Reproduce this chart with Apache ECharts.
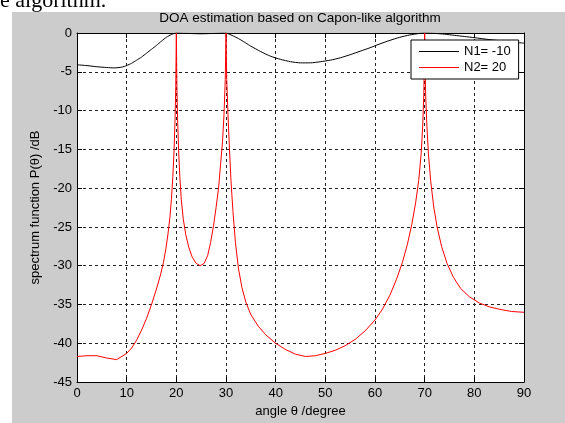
<!DOCTYPE html>
<html lang="en">
<head>
    <meta charset="UTF-8">
    <title>DOA estimation based on Capon-like algorithm</title>
    <style>
        *{
            margin: 0;
            padding: 0;
        }
        body,html{
            width: 100%;
            height: 100%;
            background: #fff;
        }
        #main{
            width: 565px;
            height: 423px;
        }
    </style>
</head>
<body>

<div id="main"></div>

<script src="https://cdn.jsdelivr.net/npm/echarts@6/dist/echarts.min.js"></script>
<script type="text/javascript">
    // tick labels
    var xTicks = [0, 10, 20, 30, 40, 50, 60, 70, 80, 90];
    var yTicks = [0, -5, -10, -15, -20, -25, -30, -35, -40, -45];

    // N1 = -10 (black)
    var n1Angle = [0, 2, 4, 6, 7.5, 9, 10, 11, 12, 13, 14, 15, 16, 17, 18, 19, 20, 22, 25, 28, 30,
        31, 32, 33, 34, 35, 37, 39, 41, 43, 45, 47, 49, 51, 53, 55, 57, 59, 61, 63, 65, 67, 69, 70,
        72, 74, 76, 78, 80, 83, 86, 88, 90];
    var n1Value = [-4.1, -4.2, -4.35, -4.45, -4.5, -4.4, -4.2, -3.9, -3.5, -3.1, -2.6, -2.1, -1.6, -1.05, -0.55, -0.2, 0, -0.05, -0.1, -0.05, 0,
        -0.25, -0.55, -0.9, -1.3, -1.7, -2.4, -3.0, -3.4, -3.7, -3.85, -3.85, -3.7, -3.5, -3.2, -2.8, -2.35, -1.9, -1.4, -0.95, -0.55, -0.25, -0.05, 0,
        -0.05, -0.15, -0.3, -0.45, -0.6, -0.85, -1.05, -1.2, -1.3];

    // N2 = 20 (red)
    var n2Angle = [0, 2, 4, 6, 8, 10, 11, 12, 13, 14, 15, 16, 16.8, 17.4, 17.9, 18.3, 18.7, 19.0, 19.3, 19.55, 19.75, 19.88, 20,
        20.12, 20.25, 20.45, 20.7, 21.0, 21.4, 21.9, 22.5, 23.2, 24.0, 24.8, 25.6, 26.3, 26.9, 27.5, 28.0, 28.5, 28.9, 29.3, 29.6, 29.85, 30,
        30.15, 30.4, 30.7, 31.0, 31.4, 31.9, 32.5, 33.2, 34.0, 35.0, 36.5, 38, 40, 42, 44, 46, 48, 50, 52, 54, 56, 58, 60,
        61.5, 63, 64.3, 65.5, 66.5, 67.4, 68.2, 68.8, 69.3, 69.6, 69.82, 69.93, 70,
        70.08, 70.2, 70.45, 70.75, 71.2, 71.8, 72.5, 73.4, 74.5, 75.8, 77.2, 79, 81, 83, 85, 87.5, 90];
    var n2Value = [-41.7, -41.6, -41.6, -41.9, -42.1, -41.3, -40.6, -39.6, -38.3, -36.8, -35.0, -33.0, -31.2, -29.6, -27.8, -26.0, -23.8, -21.5, -18.5, -15, -11, -7, 0,
        -7, -11, -15, -18.5, -21.5, -24, -26, -27.6, -28.9, -29.7, -30, -29.7, -28.7, -27, -24.8, -22.5, -20, -17, -14, -10.5, -6, 0,
        -6, -10.5, -15, -19, -23, -27, -30.3, -32.8, -34.7, -36.3, -37.8, -38.9, -40.0, -40.8, -41.4, -41.7, -41.6, -41.3, -40.9, -40.3, -39.5, -38.4, -37.0,
        -35.6, -33.8, -31.8, -29.6, -27.3, -24.7, -21.8, -19, -15.5, -12, -8, -4, 0,
        -4, -8, -12, -15.5, -19, -22.3, -25, -27.5, -29.7, -31.5, -32.9, -34.0, -34.8, -35.3, -35.6, -35.9, -36];

    function pairs(xs, ys) {
        var out = [];
        for (var i = 0; i < xs.length; i++) {
            out.push([xs[i], ys[i]]);
        }
        return out;
    }

    var myChart = echarts.init(document.getElementById('main'));

    var tickFont = {color: '#000', fontSize: 13, fontFamily: 'Liberation Sans, Arial, sans-serif'};

    var option = {
        animation: false,
        backgroundColor: '#fff',
        textStyle: {fontFamily: 'Liberation Sans, Arial, sans-serif', color: '#000'},
        graphic: [
            {
                type: 'rect',
                z: -100,
                shape: {x: 12, y: 12, width: 553, height: 411},
                style: {fill: '#cccccc'}
            },
            {
                type: 'text',
                z: -50,
                style: {
                    x: 0, y: 12.5,
                    text: 'e algorithm.',
                    fill: '#000',
                    font: '22px "Liberation Serif", "Times New Roman", serif',
                    verticalAlign: 'bottom'
                }
            }
        ],
        title: {
            text: 'DOA estimation based on Capon-like algorithm',
            left: 300,
            top: 11,
            textAlign: 'center',
            padding: 0,
            textStyle: {fontSize: 13.5, fontWeight: 'normal', color: '#000', fontFamily: 'Liberation Sans, Arial, sans-serif'}
        },
        legend: {
            orient: 'vertical',
            left: 411,
            top: 40,
            padding: [5, 8],
            itemGap: 3,
            itemWidth: 40,
            itemHeight: 1,
            icon: 'rect',
            backgroundColor: '#fff',
            borderColor: '#000',
            borderWidth: 1,
            borderRadius: 0,
            textStyle: {fontSize: 13, color: '#000'},
            data: ['N1= -10', 'N2= 20']
        },
        grid: {
            left: 77,
            top: 33,
            right: 41,
            bottom: 40,
            show: true,
            backgroundColor: '#fff',
            borderWidth: 0
        },
        xAxis: [
            {
                type: 'value',
                min: 0,
                max: 90,
                interval: 10,
                name: 'angle θ /degree',
                nameLocation: 'middle',
                nameGap: 16,
                nameTextStyle: {fontSize: 13, color: '#000'},
                axisLine: {onZero: false, lineStyle: {color: '#000', width: 1}},
                axisTick: {inside: true, length: 5, lineStyle: {color: '#000'}},
                axisLabel: Object.assign({margin: 5, formatter: function (v) {
                    return xTicks.indexOf(v) >= 0 ? String(v) : '';
                }}, tickFont),
                splitLine: {show: true, lineStyle: {color: '#222', type: [3, 3], width: 1}}
            },
            {
                type: 'value',
                position: 'top',
                min: 0,
                max: 90,
                interval: 10,
                axisLine: {onZero: false, lineStyle: {color: '#000', width: 1}},
                axisTick: {inside: true, length: 5, lineStyle: {color: '#000'}},
                axisLabel: {show: false},
                splitLine: {show: false}
            }
        ],
        yAxis: [
            {
                type: 'value',
                min: -45,
                max: 0,
                interval: 5,
                name: 'spectrum function P(θ) /dB',
                nameLocation: 'middle',
                nameGap: 28,
                nameTextStyle: {fontSize: 13, color: '#000'},
                axisLine: {onZero: false, lineStyle: {color: '#000', width: 1}},
                axisTick: {inside: true, length: 5, lineStyle: {color: '#000'}},
                axisLabel: Object.assign({margin: 5, formatter: function (v) {
                    return yTicks.indexOf(v) >= 0 ? String(v) : '';
                }}, tickFont),
                splitLine: {show: true, lineStyle: {color: '#222', type: [3, 3], width: 1}}
            },
            {
                type: 'value',
                position: 'right',
                min: -45,
                max: 0,
                interval: 5,
                axisLine: {onZero: false, lineStyle: {color: '#000', width: 1}},
                axisTick: {inside: true, length: 5, lineStyle: {color: '#000'}},
                axisLabel: {show: false},
                splitLine: {show: false}
            }
        ],
        series: [
            {
                name: 'N1= -10',
                type: 'line',
                showSymbol: false,
                symbol: 'none',
                smooth: 0.2,
                color: '#000',
                lineStyle: {color: '#000', width: 1},
                data: pairs(n1Angle, n1Value)
            },
            {
                name: 'N2= 20',
                type: 'line',
                showSymbol: false,
                symbol: 'none',
                color: '#ff0000',
                lineStyle: {color: '#ff0000', width: 1},
                data: pairs(n2Angle, n2Value)
            }
        ]
    };
    // 使用刚指定的配置项和数据显示图表。
    myChart.setOption(option);
</script>
</body>
</html>
